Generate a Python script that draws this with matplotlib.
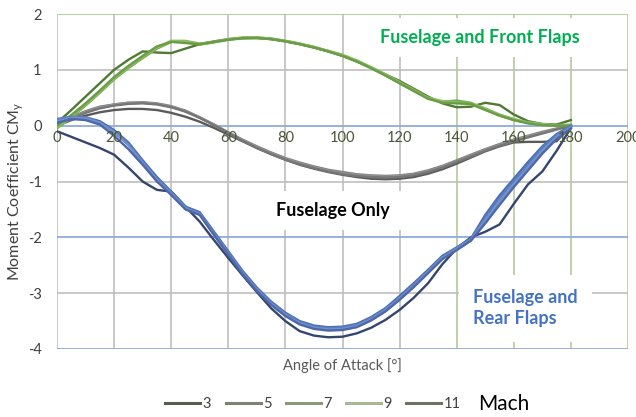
import numpy as np
import matplotlib
matplotlib.use("Agg")
import matplotlib.pyplot as plt
from matplotlib.lines import Line2D

plt.rcParams['font.family'] = ['Lato', 'DejaVu Sans']
plt.rcParams['mathtext.fontset'] = 'custom'
plt.rcParams['mathtext.rm'] = 'Lato'

# angle of attack, deg
angles = np.arange(0, 181, 5)
mach = ['3', '5', '7', '9', '11']

# fuselage only
gray3 = [0.00, 0.10, 0.18, 0.24, 0.28, 0.30, 0.30, 0.28, 0.23, 0.16, 0.07, -0.04, -0.16, -0.28, -0.40, -0.51, -0.61, -0.70, -0.77,
         -0.83, -0.88, -0.92, -0.95, -0.96, -0.95, -0.92, -0.86, -0.78, -0.68, -0.57, -0.46, -0.37, -0.30, -0.29, -0.29, -0.28, 0.00]
gray5 = [0.00, 0.15, 0.26, 0.34, 0.38, 0.41, 0.42, 0.40, 0.35, 0.27, 0.15, 0.02, -0.12, -0.25, -0.37, -0.48, -0.58, -0.66, -0.73,
         -0.79, -0.83, -0.87, -0.89, -0.90, -0.89, -0.86, -0.80, -0.72, -0.62, -0.52, -0.42, -0.33, -0.25, -0.18, -0.11, -0.05, 0.00]
gray7 = [0.00, 0.14, 0.25, 0.33, 0.38, 0.41, 0.41, 0.39, 0.34, 0.26, 0.14, 0.01, -0.13, -0.26, -0.38, -0.49, -0.59, -0.67, -0.74,
         -0.80, -0.84, -0.88, -0.90, -0.91, -0.90, -0.87, -0.81, -0.73, -0.63, -0.53, -0.43, -0.34, -0.26, -0.19, -0.12, -0.06, 0.00]
gray9 = [0.00, 0.13, 0.24, 0.32, 0.37, 0.40, 0.41, 0.39, 0.34, 0.26, 0.15, 0.02, -0.12, -0.26, -0.39, -0.50, -0.60, -0.68, -0.75,
         -0.81, -0.86, -0.89, -0.91, -0.92, -0.91, -0.88, -0.82, -0.74, -0.64, -0.54, -0.44, -0.35, -0.27, -0.20, -0.13, -0.06, 0.00]
gray11 = [0.00, 0.12, 0.23, 0.31, 0.36, 0.39, 0.40, 0.38, 0.33, 0.25, 0.14, 0.01, -0.13, -0.27, -0.40, -0.51, -0.61, -0.69, -0.76,
          -0.82, -0.87, -0.90, -0.92, -0.93, -0.92, -0.89, -0.83, -0.75, -0.65, -0.55, -0.45, -0.36, -0.28, -0.21, -0.14, -0.07, 0.00]

# fuselage and front flaps
green3 = [0.05, 0.28, 0.52, 0.76, 1.00, 1.18, 1.33, 1.31, 1.30, 1.38, 1.46, 1.51, 1.55, 1.57, 1.57, 1.55, 1.51, 1.46, 1.40,
          1.33, 1.25, 1.15, 1.04, 0.92, 0.80, 0.66, 0.52, 0.40, 0.33, 0.34, 0.41, 0.37, 0.20, 0.08, 0.03, 0.02, 0.10]
green5 = [-0.05, 0.15, 0.36, 0.59, 0.83, 1.03, 1.21, 1.38, 1.50, 1.51, 1.46, 1.50, 1.54, 1.57, 1.58, 1.56, 1.52, 1.47, 1.41,
          1.34, 1.26, 1.16, 1.04, 0.91, 0.77, 0.63, 0.49, 0.43, 0.45, 0.41, 0.30, 0.19, 0.11, 0.05, 0.02, 0.01, 0.00]
green7 = [-0.04, 0.16, 0.37, 0.60, 0.84, 1.04, 1.22, 1.39, 1.51, 1.49, 1.45, 1.49, 1.54, 1.56, 1.57, 1.55, 1.51, 1.46, 1.40,
          1.33, 1.25, 1.15, 1.03, 0.90, 0.76, 0.62, 0.49, 0.42, 0.41, 0.38, 0.29, 0.18, 0.10, 0.05, 0.02, 0.00, 0.00]
green9 = [-0.03, 0.17, 0.38, 0.61, 0.85, 1.05, 1.23, 1.40, 1.52, 1.52, 1.47, 1.50, 1.55, 1.58, 1.58, 1.56, 1.52, 1.47, 1.41,
          1.34, 1.27, 1.17, 1.05, 0.92, 0.78, 0.64, 0.50, 0.44, 0.42, 0.40, 0.31, 0.20, 0.12, 0.06, 0.03, 0.01, 0.02]
green11 = [0.00, 0.19, 0.40, 0.63, 0.87, 1.07, 1.25, 1.42, 1.50, 1.48, 1.46, 1.50, 1.54, 1.57, 1.57, 1.55, 1.51, 1.46, 1.40,
           1.33, 1.25, 1.15, 1.03, 0.90, 0.76, 0.62, 0.48, 0.41, 0.40, 0.39, 0.28, 0.18, 0.10, 0.04, 0.01, 0.00, 0.00]

# fuselage and rear flaps
blue3 = [-0.10, -0.20, -0.30, -0.40, -0.52, -0.75, -1.00, -1.15, -1.18, -1.45, -1.72, -2.05, -2.37, -2.68, -2.98, -3.27, -3.50, -3.68, -3.76,
         -3.79, -3.78, -3.72, -3.62, -3.48, -3.30, -3.08, -2.82, -2.48, -2.20, -2.00, -1.90, -1.77, -1.40, -1.05, -0.82, -0.45, -0.04]
blue5 = [0.10, 0.15, 0.15, 0.08, -0.08, -0.30, -0.62, -0.92, -1.18, -1.45, -1.55, -1.90, -2.25, -2.60, -2.90, -3.15, -3.35, -3.50, -3.58,
         -3.61, -3.60, -3.55, -3.43, -3.27, -3.05, -2.82, -2.58, -2.33, -2.18, -2.02, -1.60, -1.25, -0.95, -0.65, -0.37, -0.15, 0.00]
blue7 = [0.12, 0.16, 0.14, 0.06, -0.10, -0.33, -0.65, -0.95, -1.20, -1.47, -1.57, -1.92, -2.27, -2.62, -2.92, -3.17, -3.37, -3.52, -3.60,
         -3.63, -3.62, -3.57, -3.45, -3.29, -3.08, -2.85, -2.60, -2.35, -2.19, -2.03, -1.65, -1.30, -1.00, -0.70, -0.40, -0.17, -0.01]
blue9 = [0.08, 0.14, 0.13, 0.05, -0.12, -0.35, -0.67, -0.97, -1.22, -1.48, -1.59, -1.95, -2.30, -2.64, -2.94, -3.19, -3.39, -3.54, -3.62,
         -3.65, -3.64, -3.59, -3.47, -3.31, -3.10, -2.87, -2.62, -2.37, -2.21, -2.05, -1.70, -1.36, -1.05, -0.75, -0.45, -0.20, -0.03]
blue11 = [0.05, 0.12, 0.10, 0.02, -0.18, -0.42, -0.70, -1.00, -1.24, -1.50, -1.60, -1.96, -2.31, -2.66, -2.96, -3.21, -3.41, -3.56, -3.64,
          -3.67, -3.66, -3.61, -3.49, -3.33, -3.12, -2.89, -2.64, -2.39, -2.23, -2.06, -1.75, -1.42, -1.10, -0.80, -0.50, -0.24, -0.05]

gray_cols = ['#5a5a5a', '#808080', '#8a8a8a', '#999999', '#767676']
green_cols = ['#4f7a34', '#70ad47', '#7bb152', '#8fbc68', '#6a9d45']
blue_cols = ['#34466e', '#4a6fb5', '#5b7ec0', '#7491c8', '#4d67a8']
legend_cols = ['#555f4c', '#7b8470', '#8a9a78', '#a8b894', '#6b7360']

fig = plt.figure(figsize=(6.36, 4.17), dpi=100)
ax = fig.add_axes([57 / 636, 1 - 349 / 417, 571 / 636, 335 / 417])
ax.set_xlim(0, 200)
ax.set_ylim(-4, 2)

# grid, drawn by hand because the three source charts had different colours
for x in range(0, 201, 20):
    ax.axvline(x, color='#bfbfbf' if x < 140 else '#b4c89c', lw=1.2, zorder=0)
for y in [-3, -1, 1]:
    ax.axhline(y, color='#bfbfbf', lw=1.2, zorder=0)
for y in [-4, -2, 0]:
    ax.axhline(y, color='#8faadc', lw=1.3, zorder=0.5)
ax.axhline(2, color='#a9d18e', lw=1.3, zorder=0.5)
for s in ax.spines.values():
    s.set_visible(False)

for ys, c in zip([gray3, gray5, gray7, gray9, gray11], gray_cols):
    ax.plot(angles, ys, color=c, lw=1.7, zorder=3)
for ys, c in zip([green3, green5, green7, green9, green11], green_cols):
    ax.plot(angles, ys, color=c, lw=1.7, zorder=3)
for ys, c in zip([blue3, blue5, blue7, blue9, blue11], blue_cols):
    ax.plot(angles, ys, color=c, lw=1.7, zorder=3)

ax.set_xticks([])
ax.set_yticks(range(-4, 3))
ax.set_yticklabels([str(v) for v in range(-4, 3)], fontsize=10.5, color='#404040')
ax.tick_params(axis='y', length=0, pad=11)
for x in range(0, 201, 20):
    ax.text(x, -0.1, str(x), ha='center', va='top', fontsize=10.5, color='#4a5536', zorder=5)

ax.set_ylabel(r'Moment Coefficient CM$_\mathrm{y}$', fontsize=11.5, color='#404040')
ax.yaxis.set_label_coords(-0.054, 0.47)
ax.text(100, -4.16, 'Angle of Attack [°]', ha='center', va='top', fontsize=10.5, color='#595959')

box = dict(facecolor='white', edgecolor='none', boxstyle='square,pad=0.6')
ax.text(148.2, 1.58, 'Fuselage and Front Flaps', ha='center', va='center', fontsize=13,
        fontweight='bold', color='#00b050', bbox=box, zorder=2)
ax.text(96.7, -1.52, 'Fuselage Only', ha='center', va='center', fontsize=13,
        fontweight='bold', color='black', bbox=box, zorder=2)
ax.text(145.7, -3.27, 'Fuselage and\nRear Flaps', ha='left', va='center', fontsize=13,
        fontweight='bold', color='#4472c4', linespacing=1.3,
        bbox=dict(facecolor='white', edgecolor='none', boxstyle='square,pad=0.8'), zorder=2)

handles = [Line2D([], [], color=c, lw=2.2) for c in legend_cols]
fig.legend(handles, mach, loc='center', bbox_to_anchor=(313 / 636, 1 - 404 / 417), ncol=5,
           frameon=False, fontsize=10.5, handlelength=2.4, handletextpad=0.15, columnspacing=1.0,
           labelcolor='#404040')
fig.text(478 / 636, 1 - 404 / 417, 'Mach', ha='left', va='center', fontsize=15, color='black')

fig.savefig('out.png', dpi=100)
